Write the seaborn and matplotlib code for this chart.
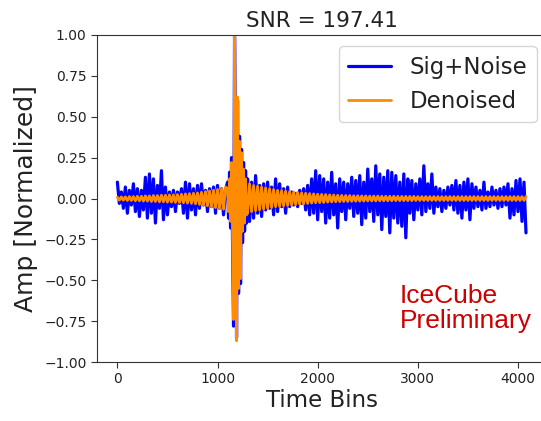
import numpy as np
import matplotlib
matplotlib.use("Agg")
import matplotlib.pyplot as plt
import seaborn as sns

# values, three time segments:
# 0-1080 in steps of 20 bins, the pulse 1100-1290 in steps of 10, 1300-4080 in steps of 20
seg_starts = [0, 1100, 1300]
seg_steps = [20, 10, 20]

noisy_a = [0.10, -0.03, 0.04, -0.06, 0.07, -0.09, 0.05, -0.04, 0.09, -0.08,
           0.06, -0.11, 0.05, -0.07, 0.13, -0.12, 0.15, -0.09, 0.12, -0.15,
           0.08, -0.06, 0.17, -0.13, 0.07, -0.10, 0.04, -0.05, 0.05, -0.08,
           0.04, -0.03, 0.06, -0.09, 0.10, -0.12, 0.09, -0.07, 0.06, -0.10,
           0.08, -0.06, 0.09, -0.04, 0.05, -0.08, 0.06, -0.05, 0.07, -0.09,
           0.08, -0.06, 0.06, -0.10, 0.05]
noisy_pulse = [0.10, -0.12, 0.16, -0.18, 0.25, -0.24, -0.78, 0.99, 0.33, -0.85,
               0.60, -0.58, 0.38, -0.52, 0.30, -0.27, 0.22, -0.20, 0.17, -0.15]
noisy_c = [0.12, -0.14, 0.10, -0.12, 0.14, -0.09, 0.08, -0.11, 0.09, -0.07,
           0.10, -0.06, 0.07, -0.10, 0.12, -0.08, 0.09, -0.05, 0.06, -0.09,
           0.07, -0.05, 0.04, -0.04, 0.03, -0.05, 0.05, -0.03, 0.06, -0.07,
           0.08, -0.10, 0.12, -0.09, 0.17, -0.13, 0.14, -0.08, 0.12, -0.15,
           0.10, -0.12, 0.16, -0.10, 0.09, -0.18, 0.12, -0.08, 0.10, -0.13,
           0.09, -0.06, 0.13, -0.11, 0.11, -0.09, 0.14, -0.16, 0.10, -0.12,
           0.18, -0.08, 0.12, -0.14, 0.20, -0.10, 0.15, -0.19, 0.13, -0.11,
           0.17, -0.21, 0.16, -0.12, 0.14, -0.15, 0.10, -0.17, 0.15, -0.24,
           0.12, -0.09, 0.11, -0.13, 0.09, -0.07, 0.12, -0.10, 0.20, -0.08,
           0.09, -0.06, 0.15, -0.09, 0.07, -0.05, 0.06, -0.08, 0.05, -0.06,
           0.07, -0.04, 0.08, -0.07, 0.11, -0.09, 0.08, -0.12, 0.10, -0.07,
           0.12, -0.13, 0.09, -0.06, 0.07, -0.05, 0.05, -0.07, 0.10, -0.06,
           0.04, -0.05, 0.07, -0.04, 0.05, -0.06, 0.06, -0.05, 0.07, -0.04,
           0.09, -0.12, 0.06, -0.10, 0.11, -0.08, 0.12, -0.14, 0.10, -0.21]

denoised_a = [0.008, -0.01, 0.01, -0.01, 0.01, -0.012, 0.012, -0.012, 0.012, -0.014,
              0.014, -0.014, 0.014, -0.016, 0.016, -0.016, 0.016, -0.018, 0.018, -0.018,
              0.018, -0.02, 0.02, -0.02, 0.02, -0.022, 0.022, -0.022, 0.022, -0.024,
              0.024, -0.024, 0.026, -0.026, 0.028, -0.028, 0.03, -0.03, 0.032, -0.032,
              0.034, -0.036, 0.038, -0.04, 0.042, -0.044, 0.046, -0.05, 0.05, -0.055,
              0.055, -0.06, 0.06, -0.065, 0.07]
denoised_pulse = [0.06, -0.08, 0.12, -0.14, 0.22, -0.20, -0.74, 1.00, 0.30, -0.87,
                  0.62, -0.55, 0.35, -0.49, 0.28, -0.20, 0.18, -0.15, 0.12, -0.10]
denoised_c = [-0.09, 0.09, -0.08, 0.08, -0.075, 0.075, -0.07, 0.07, -0.065, 0.065,
              -0.06, 0.06, -0.055, 0.055, -0.05, 0.05, -0.048, 0.048, -0.045, 0.045,
              -0.042, 0.042, -0.04, 0.04, -0.037, 0.037, -0.034, 0.034, -0.032, 0.032,
              -0.03, 0.03, -0.028, 0.028, -0.026, 0.026, -0.025, 0.025, -0.024, 0.024,
              -0.022, 0.022, -0.021, 0.021, -0.02, 0.02, -0.019, 0.019, -0.018, 0.018,
              -0.018, 0.018, -0.017, 0.017, -0.017, 0.017, -0.016, 0.016, -0.016, 0.016,
              -0.015, 0.015, -0.015, 0.015, -0.015, 0.015, -0.014, 0.014, -0.014, 0.014,
              -0.014, 0.014, -0.014, 0.014, -0.013, 0.013, -0.013, 0.013, -0.013, 0.013,
              -0.013, 0.013, -0.013, 0.013, -0.012, 0.012, -0.012, 0.012, -0.012, 0.012,
              -0.012, 0.012, -0.012, 0.012, -0.012, 0.012, -0.012, 0.012, -0.012, 0.012,
              -0.012, 0.012, -0.012, 0.012, -0.012, 0.012, -0.012, 0.012, -0.012, 0.012,
              -0.012, 0.012, -0.012, 0.012, -0.012, 0.012, -0.012, 0.012, -0.012, 0.012,
              -0.012, 0.012, -0.012, 0.012, -0.012, 0.012, -0.012, 0.012, -0.012, 0.012,
              -0.012, 0.012, -0.012, 0.012, -0.012, 0.012, -0.012, 0.012, -0.012, 0.012]

snr_value = 197.41
y_ticks = [-1.0, -0.75, -0.5, -0.25, 0.0, 0.25, 0.5, 0.75, 1.0]
x_ticks = [0, 1000, 2000, 3000, 4000]


def build_series(segments):
    t, v = [], []
    for start, step, vals in zip(seg_starts, seg_steps, segments):
        t.append(np.arange(len(vals)) * step + start)
        v.append(np.array(vals))
    return np.concatenate(t), np.concatenate(v)


t_noisy, v_noisy = build_series([noisy_a, noisy_pulse, noisy_c])
t_den, v_den = build_series([denoised_a, denoised_pulse, denoised_c])

sns.set_style("ticks")
plt.rcParams["font.family"] = ["DejaVu Sans"]

fig = plt.figure(figsize=(5.41, 4.21), dpi=100)
ax = fig.add_axes([0.179, 0.140, 0.834, 0.777])

sns.lineplot(x=t_noisy, y=v_noisy, ax=ax, color="blue", linewidth=2.3,
             label="Sig+Noise", estimator=None, sort=False)
sns.lineplot(x=t_den, y=v_den, ax=ax, color="darkorange", linewidth=2.0,
             label="Denoised", estimator=None, sort=False)

ax.set_xlim(-205, 4300)
ax.set_ylim(-1.0, 1.0)
ax.set_xticks(x_ticks)
ax.set_yticks(y_ticks)
ax.set_yticklabels([f"{v:.2f}".replace("-", "\u2212") for v in y_ticks])
ax.tick_params(labelsize=10, color="#333333", labelcolor="#222222", length=4)
for s in ax.spines.values():
    s.set_color("#333333")

ax.set_title(f"SNR = {snr_value}", fontsize=15.5, pad=6, color="#222222")
ax.set_xlabel("Time Bins", fontsize=16.5, labelpad=2, color="#222222")
ax.set_ylabel("Amp [Normalized]", fontsize=18, labelpad=4, color="#222222")

leg = ax.legend(loc="upper right", fontsize=16.5, handlelength=1.9,
                borderaxespad=0.5, fancybox=True, framealpha=0.8)
for txt in leg.get_texts():
    txt.set_color("#222222")

# label placed by figure coordinates
fig.text(400 / 541, 1 - 284 / 421, "IceCube\nPreliminary", color="#cc0000",
         fontsize=19, family="Liberation Sans", va="top", ha="left",
         linespacing=1.05)

fig.savefig("out.png", dpi=100)
